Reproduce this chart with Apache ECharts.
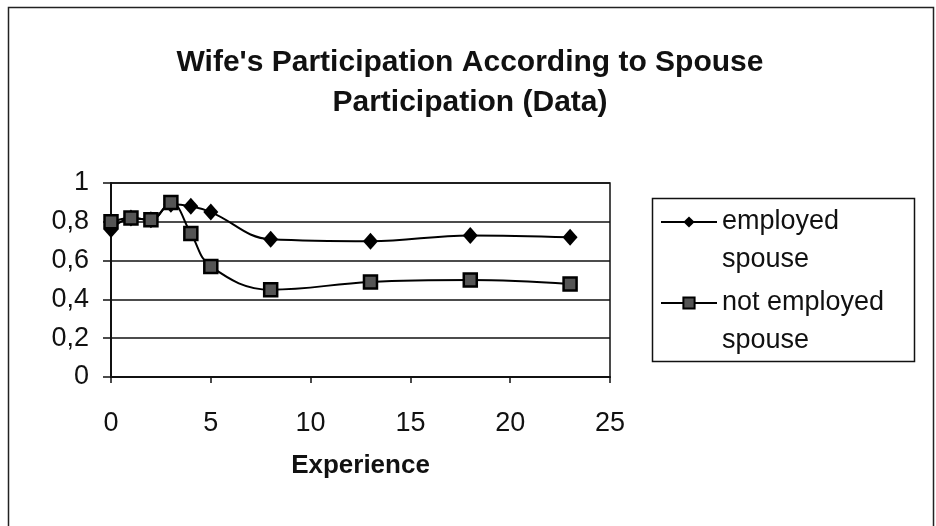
<!DOCTYPE html>
<html>
<head>
<meta charset="utf-8">
<script src="https://cdn.jsdelivr.net/npm/echarts@6/dist/echarts.min.js"></script>
<style>
  html, body { margin: 0; padding: 0; background: #fff; }
  #chart { width: 936px; height: 526px; }
</style>
</head>
<body>
<div id="chart"></div>
<script>
// data
const experience = [0, 1, 2, 3, 4, 5, 8, 13, 18, 23]
const employedSpouse = [0.76, 0.82, 0.81, 0.89, 0.88, 0.85, 0.71, 0.70, 0.73, 0.72]
const notEmployedSpouse = [0.80, 0.82, 0.81, 0.90, 0.74, 0.57, 0.45, 0.49, 0.50, 0.48]
const seriesNames = ['employed spouse', 'not employed spouse']
// leading blank line keeps the first line level with the legend symbol
const legendLabels = ['\nemployed\nspouse', '\nnot employed\nspouse']

const font = '"Liberation Sans", Arial, sans-serif'

const pairs = (ys) => experience.map((x, i) => [x, ys[i]])

const chart = echarts.init(document.getElementById('chart'))

chart.setOption({
  animation: false,
  backgroundColor: '#fff',
  title: {
    text: "Wife's Participation According to Spouse\nParticipation (Data)",
    left: 465,
    top: 38,
    textAlign: 'center',
    textStyle: {
      fontFamily: font,
      fontSize: 30,
      fontWeight: 'bold',
      color: '#111',
      lineHeight: 40
    }
  },
  grid: {
    left: 111,
    right: 326,
    top: 183,
    bottom: 149,
    show: true,
    borderColor: '#111',
    borderWidth: 1.5
  },
  legend: {
    orient: 'vertical',
    left: 660,
    top: 165,
    padding: 0,
    itemGap: -33,
    itemWidth: 56,
    itemHeight: 14,
    data: seriesNames,
    formatter: (name) => legendLabels[seriesNames.indexOf(name)],
    textStyle: {
      fontFamily: font,
      fontSize: 27,
      color: '#111',
      lineHeight: 38
    }
  },
  graphic: [
    {
      // outer chart frame
      type: 'rect',
      shape: { x: 8.5, y: 7.5, width: 925, height: 540 },
      style: { fill: null, stroke: '#222', lineWidth: 1.5 },
      silent: true
    },
    {
      // legend frame
      type: 'rect',
      shape: { x: 652.5, y: 198.5, width: 262, height: 163 },
      style: { fill: null, stroke: '#111', lineWidth: 1.5 },
      silent: true
    }
  ],
  xAxis: {
    type: 'value',
    min: 0,
    max: 25,
    interval: 5,
    name: 'Experience',
    nameLocation: 'middle',
    nameGap: 76,
    nameTextStyle: {
      fontFamily: font,
      fontSize: 26,
      fontWeight: 'bold',
      color: '#111'
    },
    axisLine: { lineStyle: { color: '#111', width: 2 } },
    axisTick: { show: true, length: 6, lineStyle: { color: '#111', width: 1.5 } },
    axisLabel: {
      margin: 33,
      fontFamily: font,
      fontSize: 27,
      color: '#111'
    },
    splitLine: { show: false }
  },
  yAxis: {
    type: 'value',
    min: 0,
    max: 1,
    interval: 0.2,
    axisLine: { show: true, lineStyle: { color: '#111', width: 2 } },
    axisTick: { show: true, length: 8, lineStyle: { color: '#111', width: 1.5 } },
    axisLabel: {
      margin: 22,
      fontFamily: font,
      fontSize: 27,
      color: '#111',
      formatter: (v) => String(Math.round(v * 10) / 10).replace('.', ',')
    },
    splitLine: { show: true, lineStyle: { color: '#111', width: 1.5 } }
  },
  series: [
    {
      name: seriesNames[0],
      type: 'line',
      smooth: 0.4,
      data: pairs(employedSpouse),
      symbol: 'diamond',
      symbolSize: [15, 17],
      itemStyle: { color: '#000' },
      lineStyle: { color: '#000', width: 2 }
    },
    {
      name: seriesNames[1],
      type: 'line',
      smooth: 0.4,
      data: pairs(notEmployedSpouse),
      symbol: 'rect',
      symbolSize: 13,
      itemStyle: { color: '#555', borderColor: '#000', borderWidth: 2.5 },
      lineStyle: { color: '#000', width: 2 }
    }
  ]
})
</script>
</body>
</html>
